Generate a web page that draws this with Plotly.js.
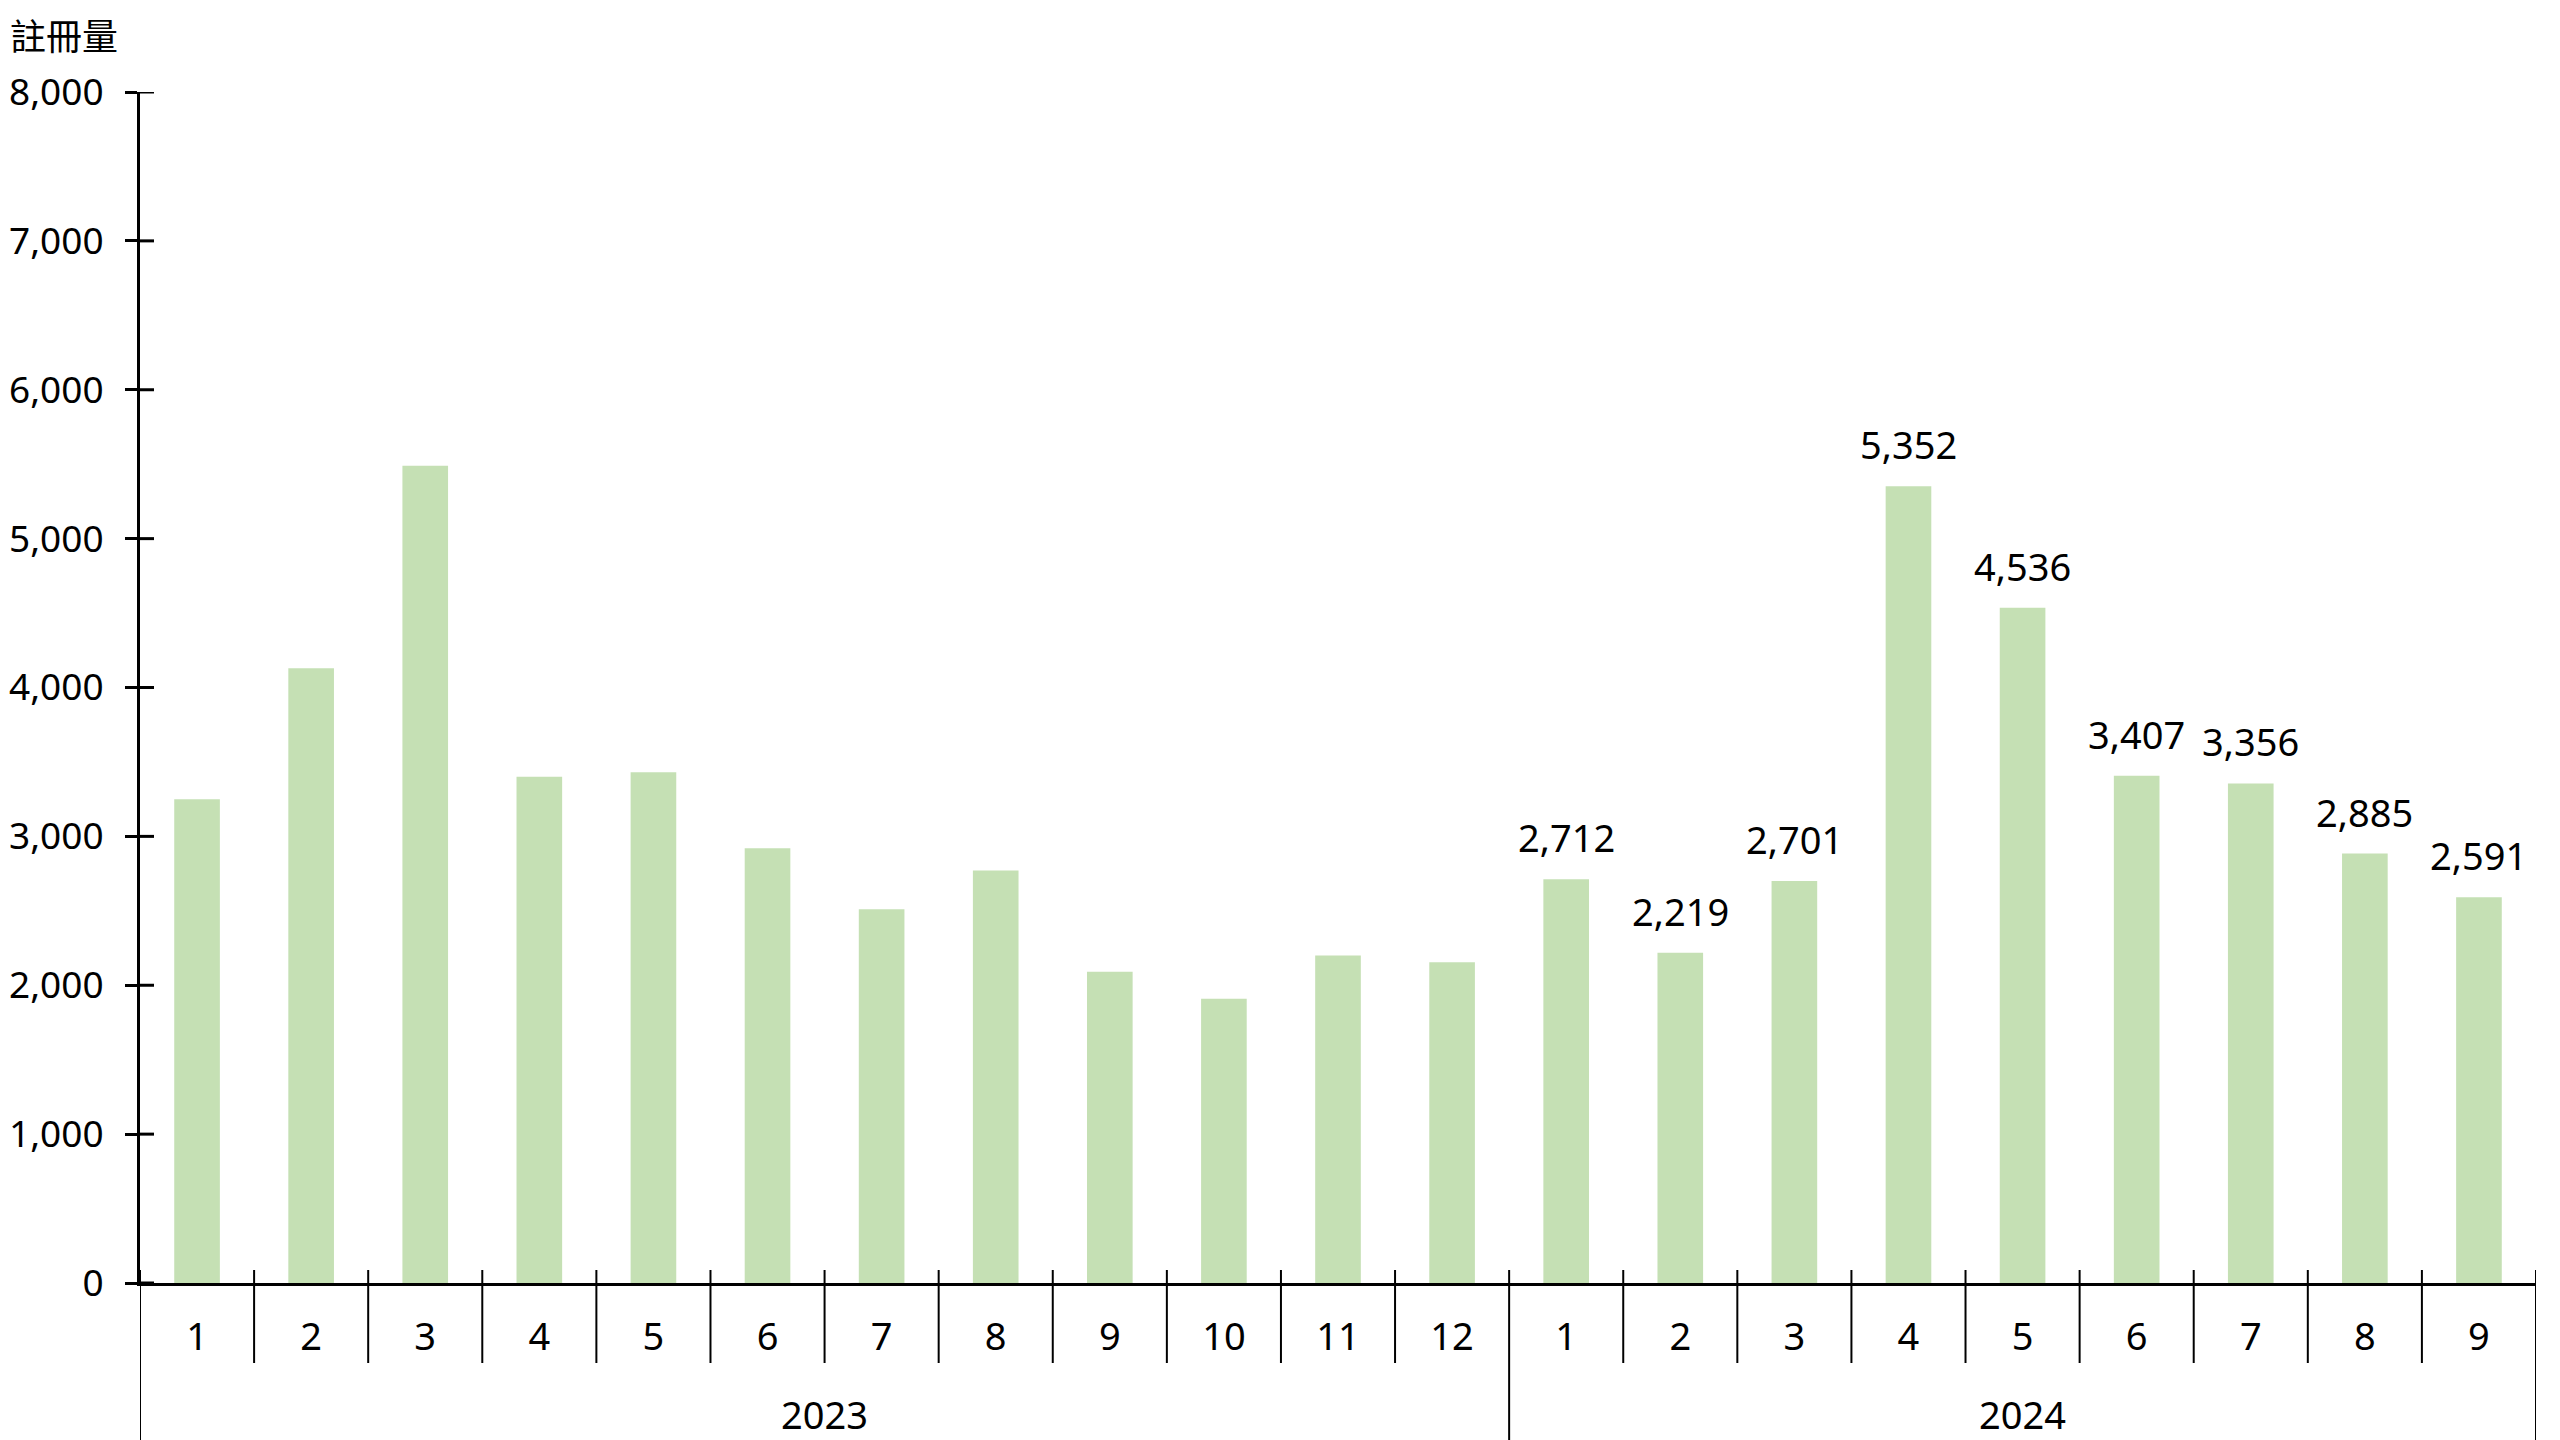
<!DOCTYPE html>
<html>
<head>
<meta charset="utf-8">
<script src="https://cdn.plot.ly/plotly-3.0.1.min.js"></script>
<style>html,body{margin:0;padding:0;background:#fff;}#chart{width:2560px;height:1440px;}</style>
</head>
<body>
<div id="chart"></div>
<script>
const years = ["2023","2023","2023","2023","2023","2023","2023","2023","2023","2023","2023","2023",
               "2024","2024","2024","2024","2024","2024","2024","2024","2024"];
const months = ["1","2","3","4","5","6","7","8","9","10","11","12",
                "1","2","3","4","5","6","7","8","9"];
const registrations = [3250, 4130, 5490, 3400, 3430, 2920, 2510, 2770, 2090, 1910, 2200, 2155,
                       2712, 2219, 2701, 5352, 4536, 3407, 3356, 2885, 2591];
const yTicks = [0, 1000, 2000, 3000, 4000, 5000, 6000, 7000, 8000];
const labelledYear = "2024";
const yTitle = "註冊量";

const FONT = "Noto Sans, Noto Sans CJK TC, sans-serif";
const n = months.length;
const idx = months.map((_, i) => i);

// year groups from the data
const yearGroups = [];
for (let i = 0; i < n; i++) {
  if (i === 0 || years[i] !== years[i - 1]) yearGroups.push({year: years[i], start: i, end: i});
  yearGroups[yearGroups.length - 1].end = i;
}

const shapes = [];
// month boundary ticks (cross the axis), longer dividers at year boundaries
for (let i = 0; i <= n; i++) {
  const isYearBound = (i === 0 || i === n || years[i] !== years[i - 1]);
  shapes.push({
    type: "line", xref: "x", yref: "paper", ysizemode: "pixel", yanchor: 0,
    x0: i - 0.5, x1: i - 0.5, y0: 13, y1: isYearBound ? -160 : -80,
    line: {color: "#000", width: 2}
  });
}
// y ticks crossing the axis (inside part)
yTicks.forEach(t => shapes.push({
  type: "line", xref: "paper", yref: "y", xsizemode: "pixel", xanchor: 0,
  x0: 0, x1: 14, y0: t, y1: t, line: {color: "#000", width: 3}
}));

const annotations = registrations.map((v, i) => years[i] === labelledYear ? {
  x: i, y: v, xref: "x", yref: "y", text: v.toLocaleString("en-US"),
  showarrow: false, yanchor: "bottom", yshift: 14,
  font: {family: FONT, size: 38, color: "#000"}
} : null).filter(a => a);
yearGroups.forEach(g => annotations.push({
  x: (g.start + g.end) / 2, y: 0, xref: "x", yref: "paper", text: g.year,
  showarrow: false, yanchor: "middle", yshift: -131,
  font: {family: FONT, size: 38, color: "#000"}
}));
annotations.push({
  text: yTitle, xref: "paper", yref: "paper", x: 0, y: 1, xanchor: "left", yanchor: "bottom",
  xshift: -132, yshift: 30, showarrow: false,
  font: {family: "Noto Sans CJK TC, sans-serif", size: 36, color: "#000"}
});

const trace = {
  type: "bar",
  x: idx,
  y: registrations,
  marker: {color: "#C5E0B4"},
  hoverinfo: "y"
};

const layout = {
  width: 2560, height: 1440,
  margin: {l: 140, r: 24, t: 92, b: 157},
  paper_bgcolor: "#fff", plot_bgcolor: "#fff",
  showlegend: false,
  bargap: 0.6,
  font: {family: FONT, size: 38, color: "#000"},
  xaxis: {
    range: [-0.5, n - 0.5],
    tickmode: "array", tickvals: idx, ticktext: months,
    showline: true, linecolor: "#000", linewidth: 3,
    ticks: "", showgrid: false, zeroline: false,
    ticklabelstandoff: 18,
    tickfont: {family: FONT, size: 38, color: "#000"}
  },
  yaxis: {
    range: [0, 8000], tickmode: "array", tickvals: yTicks, tickformat: ",d",
    showline: true, linecolor: "#000", linewidth: 3,
    ticks: "outside", ticklen: 12, tickwidth: 3, tickcolor: "#000",
    showgrid: false, zeroline: false,
    ticklabelstandoff: 14,
    tickfont: {family: FONT, size: 37, color: "#000"}
  },
  shapes: shapes,
  annotations: annotations
};

Plotly.newPlot("chart", [trace], layout, {displayModeBar: false, staticPlot: true});
</script>
</body>
</html>
